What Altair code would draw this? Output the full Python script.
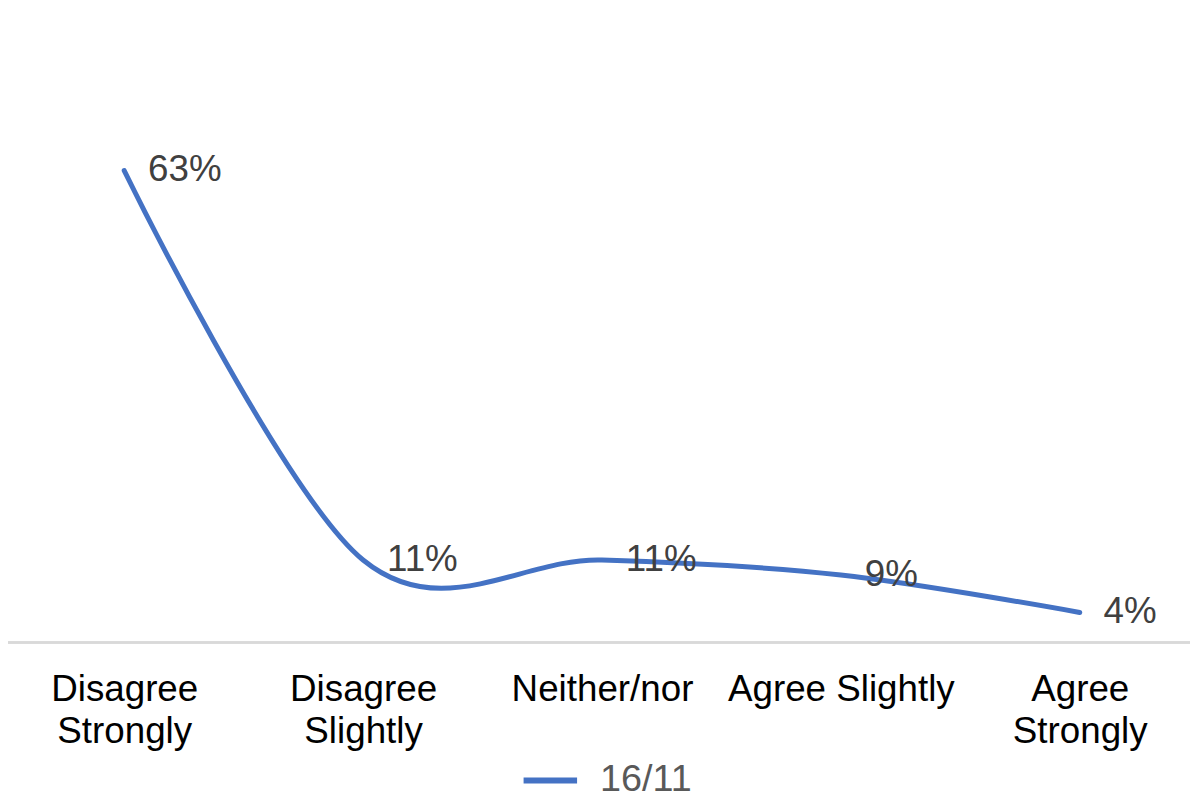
import altair as alt
import pandas as pd

categories = ["Disagree Strongly", "Disagree Slightly", "Neither/nor", "Agree Slightly", "Agree Strongly"]
values = [63, 11, 11, 9, 4]
labels = ["63%", "11%", "11%", "9%", "4%"]
series = "16/11"

df = pd.DataFrame({"cat": categories, "val": values, "lab": labels, "series": [series] * len(categories)})

FONT = "Liberation Sans"
W, H = 1190, 636

x = alt.X("cat:N", sort=categories, title=None,
          scale=alt.Scale(type="point", range=[117, 1079], padding=0),
          axis=alt.Axis(domain=False, ticks=False, grid=False, labelAngle=0,
                        labelFont=FONT, labelFontSize=37, labelColor="#000000",
                        labelPadding=29, labelLineHeight=43, labelLimit=400,
                        labelExpr="datum.label == 'Neither/nor' || datum.label == 'Agree Slightly' ? datum.label : split(datum.label, ' ')"))
y = alt.Y("val:Q", title=None, scale=alt.Scale(domain=[0, 84.35], nice=False, zero=True), axis=None)

base = alt.Chart(df)

axis_line = base.mark_rule(color="#d9d9d9", strokeWidth=2).encode(
    x=alt.value(0), x2=alt.value(W), y=alt.value(H)
)

line = base.mark_line(interpolate="cardinal", strokeWidth=5, strokeCap="round").encode(
    x=x, y=y,
    color=alt.Color("series:N", title=None,
                    scale=alt.Scale(range=["#4472C4"]),
                    legend=alt.Legend(orient="none", legendX=516, legendY=745,
                                      symbolType="stroke", symbolSize=2900, symbolStrokeWidth=6,
                                      labelFont=FONT, labelFontSize=38, labelColor="#595959",
                                      labelOffset=20, labelLimit=300))
)

text = base.mark_text(align="left", baseline="middle", dx=24, font=FONT, fontSize=37, color="#404040").encode(
    x=x, y=y, text="lab:N"
)

chart = alt.layer(axis_line, line, text).properties(
    width=W, height=H,
    autosize=alt.AutoSizeParams(type="none"),
    padding={"left": 0, "top": 0, "right": 0, "bottom": 158},
).configure_view(stroke=None)

chart.save("out.html", embed_options={"renderer": "svg", "actions": False})
